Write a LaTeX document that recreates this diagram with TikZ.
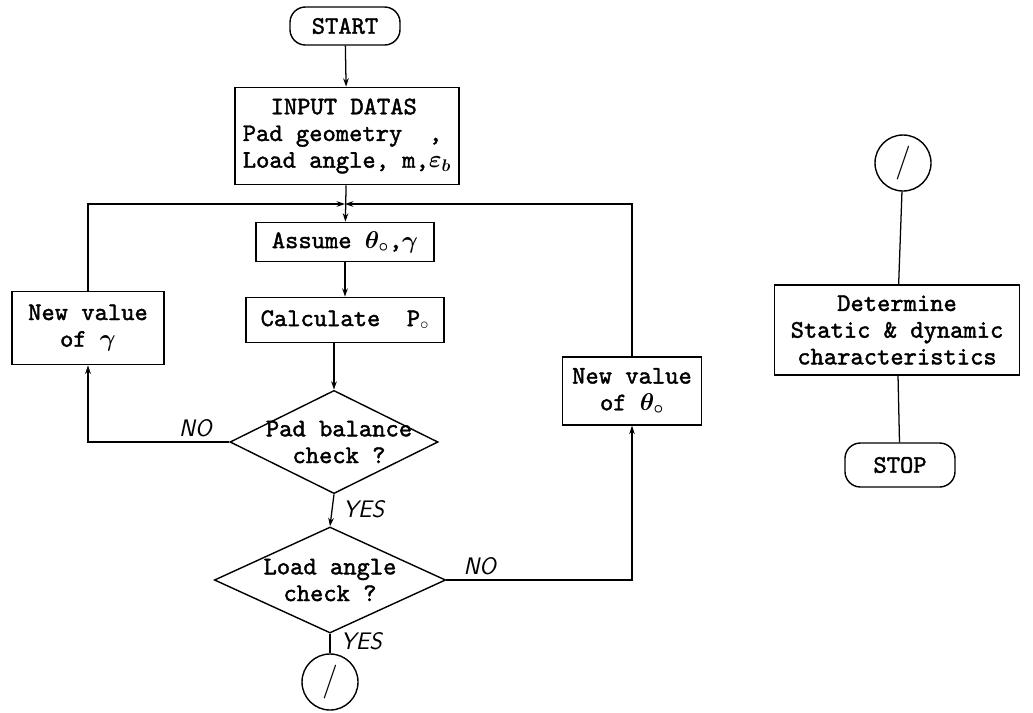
\documentclass[tikz,border=0pt]{standalone}
\usepackage{fontspec}
\setmonofont{lmmono10-regular}[Extension=.otf,AutoFakeBold=1.6]
\usepackage{amsmath}
\usetikzlibrary{shapes.geometric,arrows.meta}

\begin{document}
\begin{tikzpicture}[x=0.025cm,y=-0.025cm,
    box/.style={draw,line width=1pt,align=center,inner sep=0pt,
        font=\ttfamily\bfseries\fontsize{18}{19}\selectfont},
    term/.style={box,rounded corners=11pt},
    dec/.style={draw,line width=1pt,diamond,inner sep=0pt},
    con/.style={draw,circle,line width=1pt,inner sep=0pt,minimum size=1.4cm,
        font=\sffamily\fontsize{24}{24}\selectfont},
    ln/.style={line width=0.9pt},
    arr/.style={ln,-{Stealth[length=6pt,width=4pt]}},
    yn/.style={font=\sffamily\itshape\fontsize{17}{17}\selectfont}]
    \useasboundingbox[fill=white] (0,0) rectangle (1033,712);

    % main column
    \node[term,minimum width=2.75cm,minimum height=0.95cm] (start) at (345,26) {START};
    \node[box,minimum width=5.6cm,minimum height=2.43cm,align=left] (input) at (347,136)
        {\hspace*{1.1em}INPUT DATAS\\Pad geometry\ \ ,\\Load angle, m,$\boldsymbol{\varepsilon_b}$};
    \coordinate (jn) at (345,204);
    \node[box,minimum width=4.45cm,minimum height=0.98cm] (assume) at (345,242) {Assume $\boldsymbol{\theta_\circ}$,$\boldsymbol{\gamma}$};
    \node[box,minimum width=4.95cm,minimum height=1.13cm] (calc) at (345,320) {Calculate\ \ P$_\circ$};
    \node[dec,minimum width=5.2cm,minimum height=2.58cm] (pad) at (334,442) {};
    \node[box,draw=none] (padtxt) at (339,442) {Pad balance\\check ?};
    \node[dec,minimum width=5.78cm,minimum height=2.65cm] (load) at (330,580) {};
    \node[box,draw=none] (loadtxt) at (330,580) {Load angle\\check ?};
    \node[con] (c1) at (330,682) {/};

    % loop boxes
    \node[box,minimum width=3.8cm,minimum height=1.83cm] (newg) at (88,328) {New value\\of $\boldsymbol{\gamma}$};
    \node[box,minimum width=3.48cm,minimum height=1.7cm] (newt) at (632,391) {New value\\of $\boldsymbol{\theta_\circ}$};

    % right column
    \node[con] (c2) at (903,163) {/};
    \node[box,minimum width=6.13cm,minimum height=2.25cm] (det) at (897,330)
        {Determine\\Static \& dynamic\\characteristics};
    \node[term,minimum width=2.75cm,minimum height=1.1cm] (stop) at (900,465) {STOP};

    \draw[arr] (start) -- (input);
    \draw[arr] (input) -- (assume);
    \draw[arr] (assume) -- (calc);
    \draw[arr] (calc.south -| pad.north) -- (pad.north);
    \draw[arr] (pad.south) -- node[yn,right=4pt,pos=0.45]{YES} (load.north);
    \draw[ln] (load.south) -- node[yn,right=4pt,pos=0.4]{YES} (c1);
    \draw[arr] (pad.west) -| node[yn,above,pos=0.12]{NO} (newg.south);
    \draw[arr] (load.east) -| node[yn,above,pos=0.09]{NO} (newt.south);
    \draw[arr] (newg.north) |- (jn);
    \draw[arr] (newt.north) |- (jn);
    \draw[ln] (c2) -- (det);
    \draw[ln] (det) -- (stop);
\end{tikzpicture}
\end{document}
